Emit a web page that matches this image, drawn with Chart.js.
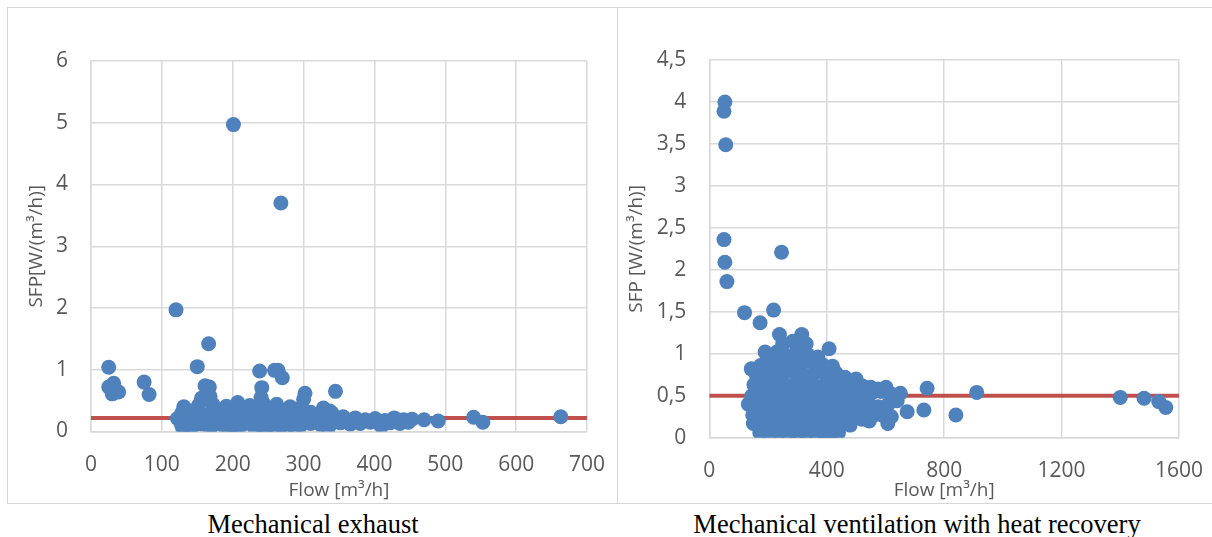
<!DOCTYPE html>
<html>
<head>
<meta charset="utf-8">
<script src="https://cdn.jsdelivr.net/npm/chart.js@4.4.0/dist/chart.umd.min.js"></script>
<style>
  html, body { margin:0; padding:0; background:#ffffff; }
  body { width:1212px; height:537px; position:relative; overflow:hidden; }
  .frame { position:absolute; left:7px; top:7px; width:1230px; height:497px; border:1px solid #D6D6D6; box-sizing:border-box; }
  .divider { position:absolute; left:617px; top:7px; width:1px; height:497px; background:#D6D6D6; }
  canvas { position:absolute; }
  .cap { position:absolute; top:511px; width:700px; text-align:center; font-family:"Liberation Serif","Times New Roman",serif; font-size:26.5px; line-height:26px; color:#000; white-space:nowrap; }
</style>
</head>
<body>
<div class="frame"></div>
<div class="divider"></div>
<canvas id="left" width="610" height="497" style="left:8px;top:8px;width:610px;height:497px;"></canvas>
<canvas id="right" width="594" height="497" style="left:618px;top:8px;width:594px;height:497px;"></canvas>
<div class="cap" style="left:-37px;">Mechanical exhaust</div>
<div class="cap" style="left:567px;">Mechanical ventilation with heat recovery</div>
<script>
// ---------- Mechanical exhaust ----------
const exhaustFlow = [
  25, 25, 32, 30, 39, 75, 82, 120, 150, 166, 161, 167, 156, 168, 201, 268, 238, 259, 264, 270, 241, 302, 345, 470, 490, 540, 553, 663,
  131, 152, 172, 191, 207, 224, 243, 262, 281, 296, 328, 337, 161, 240, 300,
  128, 141, 155, 170, 184, 198, 212, 226, 240, 254, 268, 282, 296, 310, 324, 340, 356,
  122, 135, 149, 163, 177, 191, 205, 219, 233, 247, 261, 275, 289, 303, 317, 331, 345, 359, 373, 387, 401, 415, 428, 441, 453,
  128, 142, 156, 170, 184, 198, 212, 226, 240, 254, 268, 282, 296, 310, 324, 338, 352, 366, 380, 394, 408, 422, 436, 448,
  130, 141, 168, 195, 205, 232, 245, 258, 276, 288, 335, 410
];
const exhaustSfp = [
  1.04, 0.72, 0.78, 0.61, 0.64, 0.80, 0.60, 1.97, 1.05, 1.42, 0.74, 0.72, 0.54, 0.57, 4.97, 3.70, 0.98, 0.99, 0.99, 0.87, 0.71, 0.62, 0.65, 0.19, 0.17, 0.23, 0.15, 0.24,
  0.40, 0.43, 0.44, 0.41, 0.47, 0.42, 0.46, 0.44, 0.40, 0.38, 0.38, 0.33, 0.56, 0.55, 0.52,
  0.30, 0.33, 0.28, 0.31, 0.35, 0.29, 0.33, 0.30, 0.34, 0.29, 0.32, 0.30, 0.27, 0.31, 0.28, 0.30, 0.24,
  0.21, 0.18, 0.22, 0.19, 0.23, 0.18, 0.21, 0.17, 0.22, 0.19, 0.23, 0.18, 0.21, 0.17, 0.22, 0.19, 0.21, 0.18, 0.22, 0.19, 0.21, 0.18, 0.22, 0.19, 0.20,
  0.10, 0.08, 0.12, 0.09, 0.11, 0.07, 0.10, 0.12, 0.08, 0.11, 0.09, 0.12, 0.10, 0.13, 0.11, 0.12, 0.14, 0.12, 0.13, 0.15, 0.12, 0.14, 0.13, 0.15,
  0.03, 0.02, 0.05, 0.02, 0.04, 0.01, 0.03, 0.02, 0.05, 0.04, 0.06, 0.08
];
const exhaustLimitFlow = [0, 700];
const exhaustLimitSfp = [0.22, 0.22];
const exhaustXTicks = [0, 100, 200, 300, 400, 500, 600, 700];
const exhaustYTicks = [0, 1, 2, 3, 4, 5, 6];

// ---------- Mechanical ventilation with heat recovery ----------
const hrvFlow = [
  53, 50, 56, 50, 53, 60, 246, 120, 219, 173, 239, 315, 190, 408, 143, 742, 911, 731, 840, 608, 674, 651, 602, 1400, 1481, 1531, 1555,
  250, 285, 300, 330,
  200, 230, 265, 298, 335, 370,
  175, 210, 245, 280, 315, 350, 385, 420,
  160, 193, 228, 262, 296, 330, 364, 398, 432, 462, 500,
  152, 185, 218, 252, 286, 320, 354, 388, 422, 456, 490, 520, 550, 575,
  145, 178, 212, 246, 280, 314, 348, 382, 416, 450, 484, 518, 552, 585, 620,
  133, 165, 200, 234, 268, 302, 336, 370, 404, 438, 472, 506, 540, 575, 610, 640,
  148, 182, 216, 250, 284, 318, 352, 386, 420, 454, 488, 522, 556, 588, 620,
  150, 180, 214, 248, 282, 316, 350, 384, 418, 452, 480, 520, 545,
  172, 205, 238, 270, 300, 330, 365, 395, 410, 440
];
const hrvSfp = [
  4.00, 3.89, 3.49, 2.36, 2.09, 1.86, 2.21, 1.49, 1.52, 1.37, 1.23, 1.23, 1.02, 1.06, 0.82, 0.59, 0.54, 0.33, 0.27, 0.17, 0.31, 0.53, 0.60, 0.48, 0.47, 0.43, 0.36,
  1.12, 1.15, 1.08, 1.12,
  0.97, 1.02, 0.98, 1.03, 0.99, 0.96,
  0.86, 0.90, 0.87, 0.91, 0.88, 0.90, 0.87, 0.85,
  0.74, 0.78, 0.75, 0.79, 0.76, 0.74, 0.78, 0.75, 0.77, 0.72, 0.70,
  0.63, 0.66, 0.62, 0.65, 0.63, 0.67, 0.64, 0.62, 0.66, 0.63, 0.65, 0.62, 0.60, 0.58,
  0.50, 0.54, 0.51, 0.53, 0.50, 0.54, 0.52, 0.49, 0.53, 0.51, 0.54, 0.50, 0.53, 0.55, 0.52,
  0.40, 0.42, 0.38, 0.41, 0.39, 0.42, 0.40, 0.38, 0.41, 0.39, 0.42, 0.38, 0.41, 0.37, 0.40, 0.44,
  0.27, 0.29, 0.26, 0.28, 0.30, 0.27, 0.29, 0.26, 0.28, 0.30, 0.27, 0.29, 0.26, 0.27, 0.25,
  0.17, 0.15, 0.17, 0.14, 0.16, 0.13, 0.17, 0.14, 0.15, 0.18, 0.15, 0.22, 0.20,
  0.06, 0.04, 0.07, 0.02, 0.03, 0.05, 0.04, 0.01, 0.02, 0.06
];
const hrvLimitFlow = [0, 1600];
const hrvLimitSfp = [0.5, 0.5];
const hrvXTicks = [0, 400, 800, 1200, 1600];
const hrvYTicks = [0, 0.5, 1, 1.5, 2, 2.5, 3, 3.5, 4, 4.5];

// ---------- styling ----------
const BLUE = '#4F81BD';
const RED = '#C0504D';
const GRID = '#D9D9D9';
const TXT = '#595959';
const FAMILY = '"Open Sans", "Noto Sans", sans-serif';
const commaFmt = v => String(v).replace('.', ',');

function makeChart(id, cfg) {
  const pts = cfg.flow.map((x, i) => ({ x: x, y: cfg.sfp[i] }));
  const lim = cfg.limFlow.map((x, i) => ({ x: x, y: cfg.limSfp[i] }));
  return new Chart(document.getElementById(id), {
    type: 'scatter',
    data: {
      datasets: [
        { data: pts, backgroundColor: BLUE, borderColor: BLUE, pointRadius: 7.5, pointHoverRadius: 7.5, pointBorderWidth: 0, order: 0 },
        { type: 'line', data: lim, borderColor: RED, borderWidth: 4, pointRadius: 0, fill: false, order: 1 }
      ]
    },
    options: {
      responsive: false, animation: false, devicePixelRatio: 1,
      events: [],
      plugins: { legend: { display: false }, tooltip: { enabled: false } },
      layout: { padding: { left: 0, top: cfg.padTop, right: cfg.padRight, bottom: 0 } },
      scales: {
        x: {
          type: 'linear', min: cfg.xTicks[0], max: cfg.xTicks[cfg.xTicks.length - 1],
          afterBuildTicks: s => { s.ticks = cfg.xTicks.map(v => ({ value: v })); },
          afterFit: s => { s.height = cfg.xHeight; s.paddingLeft = 0; s.paddingRight = 0; },
          grid: { color: GRID, lineWidth: 1.5, drawTicks: false },
          border: { color: GRID, width: 1.5 },
          ticks: { padding: cfg.xTickPad, color: TXT, font: { family: FAMILY, size: 21 }, maxRotation: 0, autoSkip: false, callback: v => commaFmt(v) },
          title: { display: true, text: 'Flow [m³/h]', color: TXT, font: { family: FAMILY, size: 19 }, padding: { top: 0, bottom: 3 } }
        },
        y: {
          type: 'linear', min: cfg.yTicks[0], max: cfg.yTicks[cfg.yTicks.length - 1],
          afterBuildTicks: s => { s.ticks = cfg.yTicks.map(v => ({ value: v })); },
          afterFit: s => { s.width = cfg.yWidth; s.paddingTop = 0; s.paddingBottom = 0; },
          grid: { color: GRID, lineWidth: 1.5, drawTicks: false },
          border: { color: GRID, width: 1.5 },
          ticks: { padding: 23, color: TXT, font: { family: FAMILY, size: 21 }, callback: v => commaFmt(v), autoSkip: false },
          title: { display: true, text: cfg.yTitle, color: TXT, font: { family: FAMILY, size: 19 }, padding: { top: cfg.yTitlePad, bottom: 0 } }
        }
      }
    }
  });
}

makeChart('left', {
  flow: exhaustFlow, sfp: exhaustSfp, limFlow: exhaustLimitFlow, limSfp: exhaustLimitSfp,
  xTicks: exhaustXTicks, yTicks: exhaustYTicks,
  padTop: 53, padRight: 31, xHeight: 73.5, yWidth: 83, xTickPad: 20.5, yTitlePad: 17,
  yTitle: 'SFP[W/(m³/h)]'
});
makeChart('right', {
  flow: hrvFlow, sfp: hrvSfp, limFlow: hrvLimitFlow, limSfp: hrvLimitSfp,
  xTicks: hrvXTicks, yTicks: hrvYTicks,
  padTop: 52, padRight: 33, xHeight: 67.3, yWidth: 91.3, xTickPad: 21, yTitlePad: 7.6,
  yTitle: 'SFP [W/(m³/h)]'
});
</script>
</body>
</html>
